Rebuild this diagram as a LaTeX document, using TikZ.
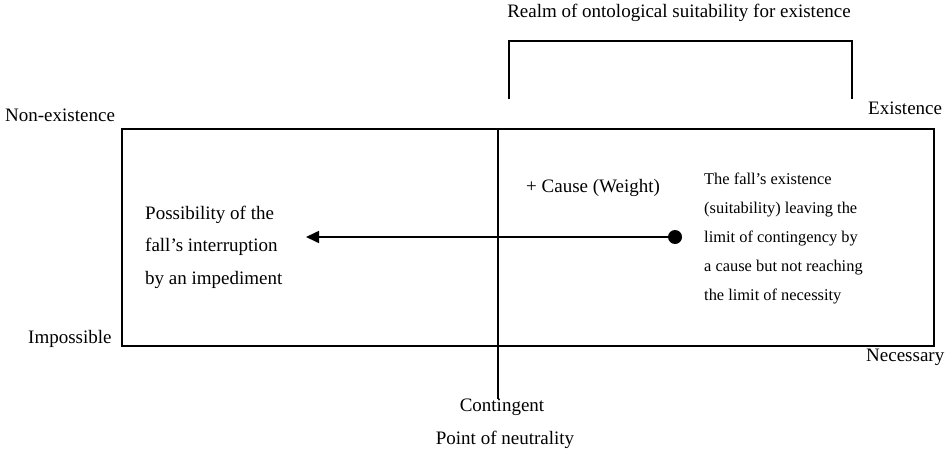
\documentclass[tikz,border=0pt]{standalone}
\usepackage{fontspec}
\setmainfont{Liberation Serif}
\usetikzlibrary{arrows.meta}
\begin{document}
\begin{tikzpicture}[x=1pt,y=-1pt,
  line/.style={line width=1.6pt},
  lbl/.style={inner sep=0pt,font=\rmfamily\fontsize{19}{22}\selectfont},
  small/.style={inner sep=0pt,font=\rmfamily\fontsize{16.4}{29}\selectfont,align=left},
  big/.style={inner sep=0pt,font=\rmfamily\fontsize{19}{32.5}\selectfont,align=left}]
\useasboundingbox (0,0) rectangle (949,452);
% main frame and neutrality axis
\draw[line] (122,129) rectangle (934,346);
\coordinate (axtop) at (498,129);
\node[lbl,anchor=north] (cont) at (502,399) {Contingent};
\draw[line] (axtop) -- (cont.north -| axtop);
\node[lbl] (neutral) at (505,440) {Point of neutrality};
% bracket over the realm of suitability
\coordinate (bl) at (509,99);
\coordinate (br) at (852,99);
\draw[line] (bl) -- (509,41) -- (852,41) -- (br);
\node[lbl] (realm) at (679,13) {Realm of ontological suitability for existence};
% corner labels
\node[lbl,anchor=west] (exist) at (868,108) {Existence};
\node[lbl,anchor=west] (nonex) at (5,115) {Non-existence};
\node[lbl,anchor=west] (imposs) at (28,339) {Impossible};
\node[lbl,anchor=west] (necess) at (866,357) {Necessary};
% cause and the movement towards interruption
\node[lbl,anchor=west] (cause) at (526,188) {+ Cause (Weight)};
\node[big,anchor=west] (interrupt) at (145,247) {Possibility of the\\fall’s interruption\\by an impediment};
\node[small,anchor=west] (fall) at (704,238) {The fall’s existence\\(suitability) leaving the\\limit of contingency by\\a cause but not reaching\\the limit of necessity};
\node[circle,fill,inner sep=0pt,minimum size=14pt] (dot) at (675,237) {};
\coordinate (tip) at (306,237);
\draw[line,-{Triangle[length=13pt,width=12pt]}] (dot.center) -- (tip);
\end{tikzpicture}
\end{document}
